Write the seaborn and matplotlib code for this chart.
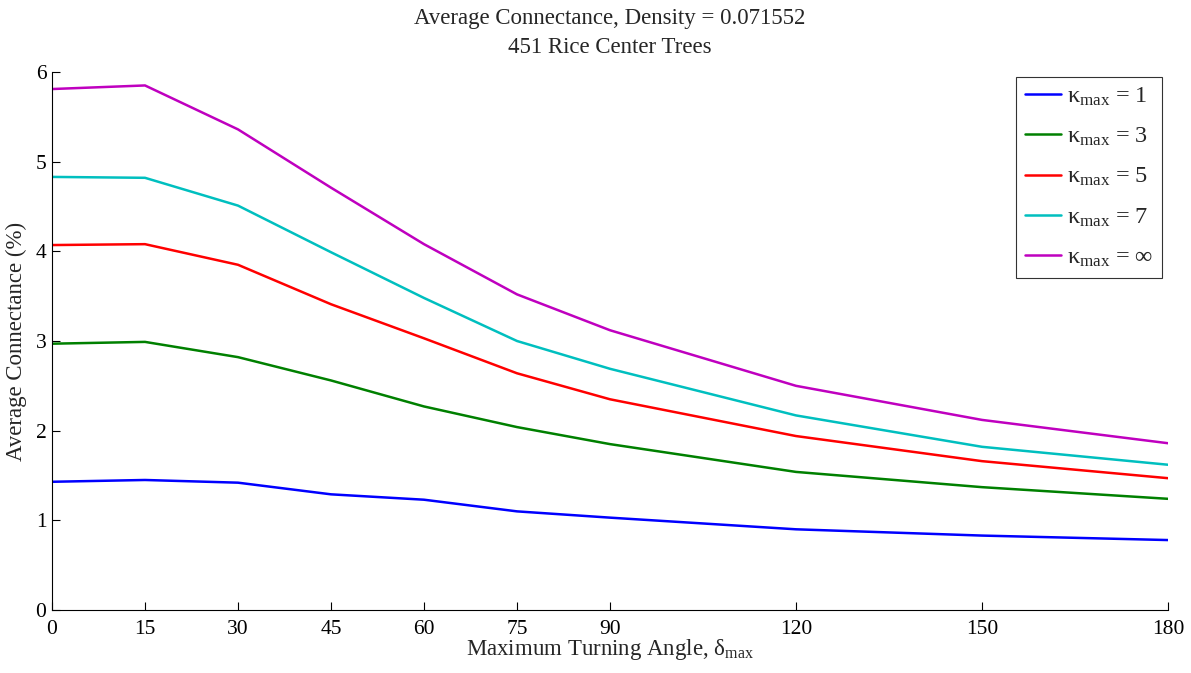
import matplotlib
matplotlib.use("Agg")
import matplotlib.pyplot as plt
import seaborn as sns
import pandas as pd

# Maximum turning angle (degrees)
angles = [0, 15, 30, 45, 60, 75, 90, 120, 150, 180]

# Average connectance (%) for each kappa_max setting
conn_k1 = [1.43, 1.45, 1.42, 1.29, 1.23, 1.10, 1.03, 0.90, 0.83, 0.78]
conn_k3 = [2.97, 2.99, 2.82, 2.56, 2.27, 2.04, 1.85, 1.54, 1.37, 1.24]
conn_k5 = [4.07, 4.08, 3.85, 3.41, 3.03, 2.64, 2.35, 1.94, 1.66, 1.47]
conn_k7 = [4.83, 4.82, 4.51, 3.99, 3.48, 3.00, 2.69, 2.17, 1.82, 1.62]
conn_kinf = [5.81, 5.85, 5.36, 4.71, 4.08, 3.52, 3.12, 2.50, 2.12, 1.86]

series_labels = [r"κ$_{\mathrm{max}}$ = 1", r"κ$_{\mathrm{max}}$ = 3",
                 r"κ$_{\mathrm{max}}$ = 5", r"κ$_{\mathrm{max}}$ = 7",
                 r"κ$_{\mathrm{max}}$ = ∞"]
series_colors = ["#0000ff", "#008000", "#ff0000", "#00bfbf", "#bf00bf"]

sns.set_theme(style="ticks")
plt.rcParams["font.family"] = ["Liberation Serif", "DejaVu Serif"]
plt.rcParams["mathtext.fontset"] = "custom"
plt.rcParams["mathtext.rm"] = "Liberation Serif"
plt.rcParams["mathtext.it"] = "Liberation Serif:italic"

rows = []
for lab, vals in zip(series_labels, [conn_k1, conn_k3, conn_k5, conn_k7, conn_kinf]):
    for a, v in zip(angles, vals):
        rows.append({"angle": a, "conn": v, "series": lab})
df = pd.DataFrame(rows)

fig = plt.figure(figsize=(11.91, 6.73), dpi=100)
ax = fig.add_axes([52 / 1191, 1 - 610 / 673, (1168 - 52) / 1191, (610 - 72) / 673])

sns.lineplot(data=df, x="angle", y="conn", hue="series", hue_order=series_labels,
             palette=series_colors, linewidth=1.8, ax=ax, legend=True)

ax.set_xlim(0, 180)
ax.set_ylim(0, 6)
ax.set_xticks(angles)
ax.set_yticks([0, 1, 2, 3, 4, 5, 6])
ax.tick_params(direction="in", length=6, width=0.8, labelsize=15.5, colors="black")
ax.tick_params(axis="x", pad=7)
ax.tick_params(axis="y", pad=4)
for side in ["top", "right"]:
    ax.spines[side].set_visible(False)
for side in ["left", "bottom"]:
    ax.spines[side].set_linewidth(0.8)
    ax.spines[side].set_color("black")

ax.set_xlabel(r"Maximum Turning Angle, δ$_{\mathrm{max}}$", fontsize=16.5, labelpad=-1)
ax.set_ylabel("Average Connectance (%)", fontsize=16.5, labelpad=6)
ax.set_title("Average Connectance, Density = 0.071552\n451 Rice Center Trees",
             fontsize=16.5, linespacing=1.45, pad=14)

leg = ax.legend(loc="upper right", bbox_to_anchor=(0.9946, 0.9907), fontsize=17.5,
                frameon=True, fancybox=False, edgecolor="black", handlelength=1.5,
                handletextpad=0.25, labelspacing=0.74, borderpad=0.35, borderaxespad=0.0)
leg.get_frame().set_linewidth(0.8)

fig.savefig("out.png", dpi=100)
